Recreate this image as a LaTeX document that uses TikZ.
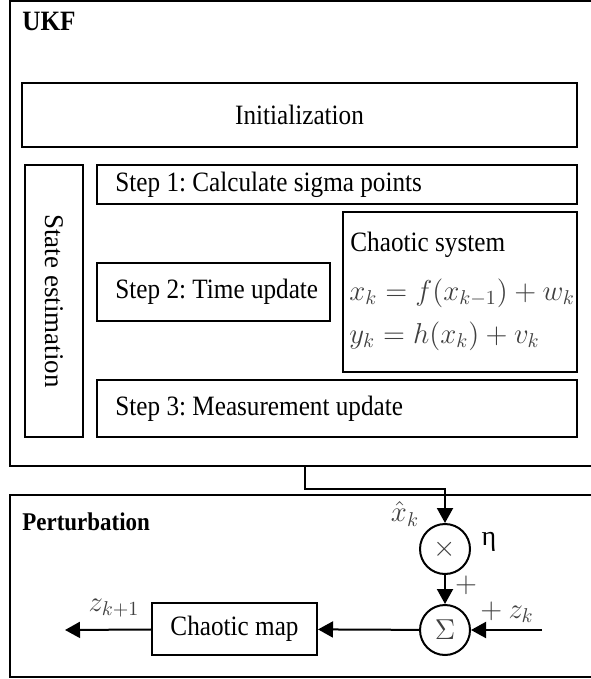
\documentclass[tikz,border=0pt]{standalone}
\usepackage{fontspec}
\setmainfont[FakeStretch=0.9]{Liberation Serif}
\newfontfamily\plainserif{Liberation Serif}
\usetikzlibrary{arrows.meta}
\definecolor{mgrey}{HTML}{404040}
\tikzset{
  every node/.style={font=\frenchspacing\fontsize{14pt}{17pt}\selectfont},
  box/.style={draw, line width=1pt, inner sep=0pt},
  frame/.style={draw, line width=1.2pt, inner sep=0pt},
  opcirc/.style={draw, circle, line width=1pt, minimum size=25pt, inner sep=0pt, text=mgrey, font=\fontsize{15pt}{18pt}\selectfont},
  arr/.style={line width=1pt, -{Triangle[length=7.5pt,width=8pt]}},
  lab/.style={text=mgrey, inner sep=0pt, font=\fontsize{14pt}{17pt}\selectfont},
  eqn/.style={anchor=west, text=mgrey, inner sep=0pt, font=\fontsize{14pt}{17pt}\selectfont},
  txt/.style={anchor=west, inner sep=0pt},
  title/.style={anchor=west, inner sep=0pt, font=\bfseries\fontsize{13.5pt}{16pt}\selectfont},
}
\begin{document}
\frenchspacing
\begin{tikzpicture}[x=0.5pt,y=-0.5pt]
\useasboundingbox (0,0) rectangle (590,679);
% frames
\node[frame, minimum width=295pt, minimum height=232.5pt] (ukf) at (305,233.5) {};
\node[frame, minimum width=295pt, minimum height=91pt] (pert) at (305,586) {};
\node[title, font=\bfseries\fontsize{14pt}{17pt}\selectfont] (ukfl) at (22,21) {UKF};
\node[title, font=\bfseries\fontsize{12.75pt}{15pt}\selectfont] (pertl) at (22,522) {Perturbation};
% UKF contents
\node[box, minimum width=277.5pt, minimum height=32pt] (init) at (299.5,115) {Initialization};
\node[box, rotate=-90, minimum width=136pt, minimum height=29pt,
      font=\plainserif\fontsize{13.5pt}{16pt}\selectfont] (se) at (54,301) {State estimation};
\node[box, minimum width=240pt, minimum height=19.5pt] (s1) at (337,184.5) {};
\node[txt] (s1t) at (115,184.5) {Step 1: Calculate sigma points};
\node[box, minimum width=116.5pt, minimum height=29pt] (s2) at (213.5,292) {};
\node[txt] (s2t) at (115,292) {Step 2: Time update};
\node[box, minimum width=240pt, minimum height=28.5pt] (s3) at (337,408.5) {};
\node[txt] (s3t) at (115,408.5) {Step 3: Measurement update};
\node[box, minimum width=117pt, minimum height=80pt] (cs) at (460,292) {};
\node[txt] (cst) at (350,245) {Chaotic system};
\node[eqn] (eq1) at (349,293) {$x_k = f(x_{k-1}) + w_k$};
\node[eqn] (eq2) at (349,336) {$y_k = h(x_k) + v_k$};
% perturbation contents
\node[opcirc] (mul) at (445,549) {$\times$};
\node[opcirc] (sum) at (445,630) {$\Sigma$};
\node[box, minimum width=82.5pt, minimum height=26pt] (cmap) at (234.5,629) {Chaotic map};
\coordinate (zin) at (542,630);
\coordinate (zout) at (65,630);
% connectors
\draw[arr] (ukf.south) -- ++(0,22) -| (mul.north);
\draw[arr] (mul) -- (sum);
\draw[arr] (zin) -- (sum);
\draw[arr] (sum) -- (cmap);
\draw[arr] (cmap) -- (zout);
% labels
\node[lab] (xhat) at (405,514) {$\hat{x}_k$};
\node[lab, text=black, font=\plainserif\fontsize{14pt}{17pt}\selectfont] (eta) at (489,542) {η};
\node[lab] (p1) at (466,585) {$+$};
\node[lab] (pz) at (507,612) {$+\ z_k$};
\node[lab] (zk1) at (114,608) {$z_{k+1}$};
\end{tikzpicture}
\end{document}
